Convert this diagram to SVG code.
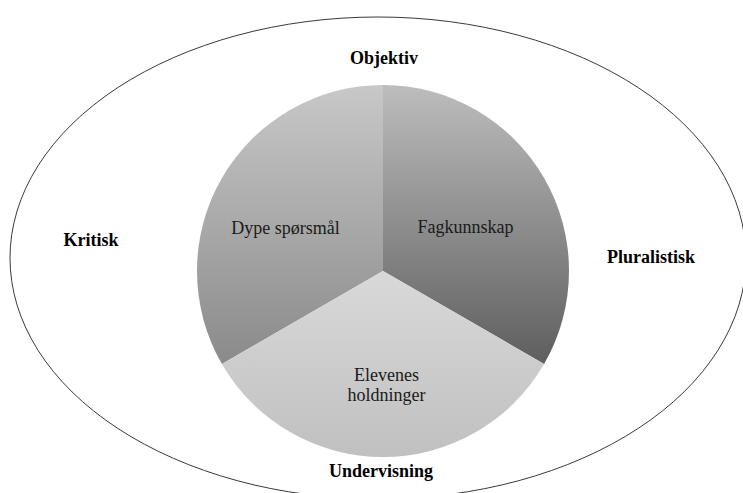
<svg xmlns="http://www.w3.org/2000/svg" width="743" height="493" viewBox="0 0 743 493">
<style>
.lbl{font-family:"Liberation Serif","Times New Roman",serif;font-size:18px;fill:#1a1a1a;text-anchor:middle}
.b{font-weight:bold;fill:#000}
</style>
<defs>
<linearGradient id="gDype" gradientUnits="userSpaceOnUse" x1="0" y1="85" x2="0" y2="364">
<stop offset="0" stop-color="#c8c8c8"/><stop offset="1" stop-color="#8a8a8a"/>
</linearGradient>
<linearGradient id="gFag" gradientUnits="userSpaceOnUse" x1="0" y1="85" x2="0" y2="364">
<stop offset="0" stop-color="#bdbdbd"/><stop offset="1" stop-color="#5e5e5e"/>
</linearGradient>
<linearGradient id="gElev" gradientUnits="userSpaceOnUse" x1="0" y1="271" x2="0" y2="457">
<stop offset="0" stop-color="#d9d9d9"/><stop offset="1" stop-color="#c0c0c0"/>
</linearGradient>
</defs>
<rect width="743" height="493" fill="#fff"/>
<g id="outer">
<ellipse cx="378" cy="258" rx="368" ry="241" fill="none" stroke="#3a3a3a" stroke-width="1"/>
</g>
<g id="labels">
<text class="lbl b" x="384" y="64">Objektiv</text>
<text class="lbl b" x="91" y="246">Kritisk</text>
<text class="lbl b" x="651" y="263">Pluralistisk</text>
<text class="lbl b" x="381" y="477">Undervisning</text>
</g>
<g id="dype">
<path d="M383,271 L383,85 A186,186 0 0 0 221.92,364 Z" fill="url(#gDype)"/>
<text class="lbl" x="285.5" y="234">Dype spørsmål</text>
</g>
<g id="fag">
<path d="M383,271 L383,85 A186,186 0 0 1 544.08,364 Z" fill="url(#gFag)"/>
<text class="lbl" x="465.5" y="233">Fagkunnskap</text>
</g>
<g id="elev">
<path d="M383,271 L544.08,364 A186,186 0 0 1 221.92,364 Z" fill="url(#gElev)"/>
<text class="lbl" x="386.5" y="381">Elevenes</text>
<text class="lbl" x="386.5" y="401">holdninger</text>
</g>
</svg>
